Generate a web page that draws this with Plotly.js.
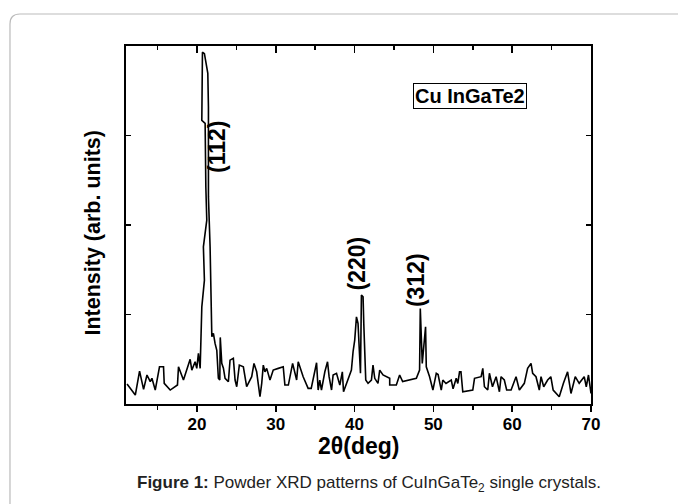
<!DOCTYPE html>
<html>
<head>
<meta charset="utf-8">
<script src="https://cdn.plot.ly/plotly-3.0.1.min.js"></script>
<style>
html,body{margin:0;padding:0;background:#fff;}
#chart{width:678px;height:504px;}
</style>
</head>
<body>
<div id="chart"></div>
<script>
// 2-theta (deg)
const twoTheta = [
11.13,12.18,12.72,13.23,13.66,14.08,14.29,14.71,15.25,15.76,15.85,16.61,17.53,17.66,18.29,19.14,19.35,19.77,19.98,20.19,20.41,
20.55,20.62,20.95,20.82,21.25,21.13,21.04,20.62,20.70,20.95,21.38,21.46,21.46,21.67,21.89,22.09,22.30,22.52,22.72,22.90,22.96,
23.15,23.36,23.57,23.99,24.20,24.62,24.84,25.05,25.38,25.89,26.31,26.95,27.24,27.58,28.00,28.22,28.42,28.63,28.85,29.27,29.68,
30.32,30.95,31.16,31.60,32.14,32.65,32.85,33.48,34.11,34.50,35.18,35.38,35.59,35.80,36.23,36.57,36.77,37.08,37.28,37.71,38.13,
38.45,38.60,39.18,39.60,39.81,40.02,40.24,40.44,40.55,40.75,40.87,41.08,41.17,41.29,41.42,41.71,42.14,42.34,42.56,42.97,43.19,
43.61,44.46,44.46,45.30,45.72,46.10,47.84,48.25,48.34,48.47,48.59,49.01,49.10,49.52,49.94,50.37,50.60,51.00,51.20,51.60,52.27,
52.50,52.90,53.10,53.32,53.50,53.73,55.00,55.22,56.06,56.27,56.48,56.90,57.11,57.50,57.96,58.38,58.59,59.00,59.30,59.86,60.49,
60.91,61.54,61.96,62.39,62.60,63.02,63.44,63.66,64.00,64.50,64.90,65.20,65.97,66.50,67.03,67.46,68.00,68.50,69.14,69.40,69.68,70.00
];
// Intensity (arb. units)
const intensity = [
223,100,368,164,324,249,287,156,416,416,231,156,212,416,268,499,379,472,398,566,398,
845,1086,1384,1756,2054,2425,3136,3170,3930,3914,3694,3318,2314,1756,751,789,677,600,287,268,744,
454,400,287,249,490,510,268,193,435,416,193,305,454,360,81,231,435,360,398,268,379,
398,416,212,212,454,268,472,305,175,175,461,156,268,156,360,472,305,156,324,343,212,
360,137,268,379,584,714,974,900,700,343,1217,1198,900,566,268,231,268,435,287,231,379,
324,287,212,212,324,250,287,379,1068,700,454,863,416,305,156,343,330,156,268,230,268,
170,287,230,360,360,137,156,287,305,398,193,156,343,193,305,137,305,268,156,156,305,
156,231,398,454,343,305,156,305,193,268,305,156,81,231,360,118,305,231,305,193,324,118
];
const xTicks = [20,30,40,50,60,70];
const xMinor = [15,25,35,45,55,65];
const yTicks = [1000,2000,3000];
const peakLabels = ["(112)","(220)","(312)"];
const peakLabelX = [22.48,40.37,47.80];
const peakLabelY = [2877,1575,1385];
const sampleName = "Cu InGaTe2";
const xTitle = "2θ(deg)";
const yTitle = "Intensity (arb. units)";
const caption = "<b>Figure 1:</b> Powder XRD patterns of CuInGaTe<sub>2</sub> single crystals.";

const F = "Liberation Sans, Arial, Helvetica, sans-serif";

const traces = [
  {x: twoTheta, y: intensity, type:'scatter', mode:'lines',
   line:{color:'#000', width:1.6}, showlegend:false, hoverinfo:'skip'},
  {x:[twoTheta[0]], y:[null], xaxis:'x2', yaxis:'y', type:'scatter', mode:'lines',
   showlegend:false, hoverinfo:'skip'}
];

const ann = peakLabels.map((t,i)=>({
  x: peakLabelX[i], y: peakLabelY[i], xref:'x', yref:'y', text:t, showarrow:false,
  textangle:-90, font:{family:F, size:23, color:'#000', weight:'bold'}
}));
ann.push({x:54.65, y:3445, xref:'x', yref:'y', text:sampleName, showarrow:false,
  bordercolor:'#000', borderwidth:1, borderpad:1, bgcolor:'#fff',
  font:{family:F, size:20, color:'#000', weight:'bold'}});
ann.push({x:0.5, y:-0.116, xref:'paper', yref:'paper', xanchor:'center', yanchor:'middle',
  text:xTitle, showarrow:false, font:{family:F, size:23, color:'#000', weight:'bold'}});
ann.push({x:-0.071, y:0.479, xref:'paper', yref:'paper', xanchor:'center', yanchor:'middle',
  text:yTitle, textangle:-90, showarrow:false, font:{family:F, size:21.5, color:'#000', weight:'bold'}});
ann.push({x:0.5226, y:-0.2235, xref:'paper', yref:'paper', xanchor:'center', yanchor:'middle',
  text:caption, showarrow:false, font:{family:F, size:17, color:'#222'}});

const layout = {
  width:678, height:504,
  margin:{l:126, r:87, t:46, b:100},
  paper_bgcolor:'#fff', plot_bgcolor:'#fff',
  font:{family:F, color:'#000'},
  xaxis:{range:[11,70], tickvals:xTicks, ticks:'outside', ticklen:6, tickwidth:1.5, tickcolor:'#000',
    minor:{tickvals:xMinor, ticks:'outside', ticklen:4, tickwidth:1.5, tickcolor:'#000'},
    ticklabelstandoff:-2,
    showline:true, linewidth:1.6, linecolor:'#000', showgrid:false, zeroline:false,
    tickfont:{family:F, size:17, color:'#000', weight:'bold'}},
  xaxis2:{range:[11,70], overlaying:'x', side:'top', tickvals:xTicks, ticks:'inside', ticklen:7, tickwidth:1.5, tickcolor:'#000',
    minor:{tickvals:xMinor, ticks:'inside', ticklen:4, tickwidth:1.5, tickcolor:'#000'},
    showticklabels:false, showline:true, linewidth:1.6, linecolor:'#000', showgrid:false, zeroline:false},
  yaxis:{range:[0,4000], tickvals:yTicks, ticks:'inside', ticklen:5, tickwidth:1.5, tickcolor:'#000',
    mirror:'ticks', showticklabels:false, showline:true, linewidth:1.6, linecolor:'#000',
    showgrid:false, zeroline:false},
  annotations: ann,
  shapes:[{type:'path', xref:'paper', yref:'paper',
    path:'M -0.2495,-0.30 L -0.2495,1.0615 Q -0.2495,1.0894 -0.228,1.0894 L 1.2,1.0894',
    line:{color:'#bbb', width:1.2}}]
};

Plotly.newPlot('chart', traces, layout, {displayModeBar:false, staticPlot:true});
</script>
</body>
</html>
